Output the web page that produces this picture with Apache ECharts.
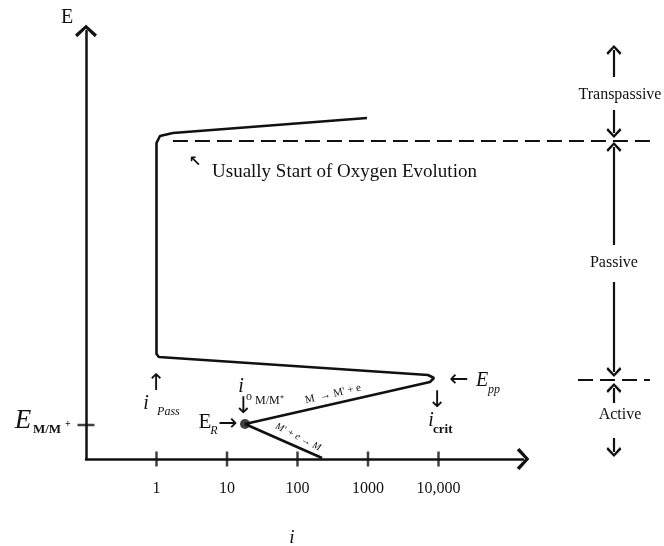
<!DOCTYPE html>
<html><head><meta charset="utf-8">
<script src="https://cdn.jsdelivr.net/npm/echarts@6/dist/echarts.min.js"></script>
<style>html,body{margin:0;padding:0;background:#fff}#c{width:664px;height:546px}</style>
</head><body><div id="c"></div>
<script>
// ---------- data ----------
const xTickValues = [1, 10, 100, 1000, 10000];
const xTickLabels = ['1', '10', '100', '1000', '10,000'];
// polarization curve (current density i, potential E in arbitrary units)
const curveI = [968, 1.71, 1.12, 1.0, 1.0, 1.08, 7096, 8630, 7570, 18, 223];
const curveE = [341, 326, 323, 316, 105, 102, 84, 81, 77, 35, 1];
const restI = [18];
const restE = [35];
const eMMTick = [34];
// region boundaries
const oxygenLineI = [1.71, 1e7];
const oxygenLineE = [318, 318];
const activeLineI = [9.52e5, 1e7];
const activeLineE = [79, 79];
const regionArrowI = 3.08e6;
const regionArrowsE = [[382, 409], [349, 326], [214, 312], [177, 87], [56, 71], [21, 7]];

// annotations: [text, i, E, grid, style, align, rotationDeg]
const annotations = [
  ['E', 0.0538, 441, 0, 'axisE', 'center', 0],
  ['i', 83.6, -79, 0, 'axisI', 'center', 0],
  ['E', 0.01278, 38, 0, 'bigE', 'center', 0],
  ['M/M', 0.0177, 29, 0, 'subBold', 'left', 0],
  ['+', 0.0555, 35, 0, 'supBold', 'center', 0],
  ['\u2196', 3.52, 297, 0, 'arrowS', 'center', 0],
  ['Usually Start of Oxygen Evolution', 6.13, 287, 0, 'text18', 'left', 0],
  ['\u2191', 0.984, 75, 0, 'arrow', 'center', 0],
  ['i', 0.71, 55, 0, 'ital', 'center', 0],
  ['Pass', 1.02, 47, 0, 'subItal', 'left', 0],
  ['i', 15.8, 72, 0, 'ital', 'center', 0],
  ['o', 20.5, 62, 0, 'sub', 'center', 0],
  ['M/M\u207A', 25, 58, 0, 'sub', 'left', 0],
  ['\u2193', 16.9, 52, 0, 'arrow', 'center', 0],
  ['E', 4.87, 37, 0, 'roman20', 'center', 0],
  ['R', 6.54, 28, 0, 'subItal', 'center', 0],
  ['\u2192', 10.3, 35, 0, 'arrow', 'center', 0],
  ['M  \u2192 M\' + e', 319, 65, 0, 'tiny', 'center', 12.8],
  ['M\' + e \u2192 M', 102, 22, 0, 'tinyItal', 'center', -27],
  ['\u2190', 19540, 79, 0, 'arrow', 'center', 0],
  ['E', 41400, 78, 0, 'ital', 'center', 0],
  ['pp', 61250, 69, 0, 'subItal', 'center', 0],
  ['\u2193', 9520, 58, 0, 'arrow', 'center', 0],
  ['i', 7830, 38, 0, 'ital', 'center', 0],
  ['crit', 8360, 29, 0, 'subBold', 'left', 0],
  ['Transpassive', 3.75e6, 364, 1, 'text16', 'center', 0],
  ['Passive', 3.08e6, 196, 1, 'text16', 'center', 0],
  ['Active', 3.75e6, 44, 1, 'text16', 'center', 0]
];

// ---------- styles ----------
const SERIF = '"Liberation Serif", "Times New Roman", serif';
const ARROWF = '"DejaVu Sans", sans-serif';
const textStyles = {
  axisE:   {fontSize: 20, fontFamily: SERIF},
  axisI:   {fontSize: 19, fontFamily: SERIF, fontStyle: 'italic'},
  bigE:    {fontSize: 27, fontFamily: SERIF, fontStyle: 'italic'},
  subBold: {fontSize: 13, fontFamily: SERIF, fontWeight: 'bold'},
  supBold: {fontSize: 10, fontFamily: SERIF, fontWeight: 'bold'},
  arrowS:  {fontSize: 15, fontFamily: ARROWF, fontWeight: 'bold'},
  arrow:   {fontSize: 23, fontFamily: ARROWF},
  text18:  {fontSize: 19, fontFamily: SERIF},
  text16:  {fontSize: 16, fontFamily: SERIF},
  ital:    {fontSize: 20, fontFamily: SERIF, fontStyle: 'italic'},
  subItal: {fontSize: 12, fontFamily: SERIF, fontStyle: 'italic'},
  sub:     {fontSize: 12, fontFamily: SERIF},
  roman20: {fontSize: 21, fontFamily: SERIF},
  tiny:    {fontSize: 11, fontFamily: SERIF},
  tinyItal:{fontSize: 10, fontFamily: SERIF, fontStyle: 'italic'}
};
const chevron = 'path://M10,0 L20,9 L18,11.5 L10,3.8 L2,11.5 L0,9 Z';
const INK = '#111';

const chart = echarts.init(document.getElementById('c'), null, {renderer: 'canvas'});

const curveData = curveI.map((v, k) => [v, curveE[k]]);
const tickData = xTickValues.map(v => [v, 0]);

const regionMarks = regionArrowsE.map(p => [
  {coord: [regionArrowI, p[0]], symbol: 'none'},
  {coord: [regionArrowI, p[1]], symbol: chevron, symbolSize: [15, 10]}
]);

const option = {
  animation: false,
  backgroundColor: '#fff',
  grid: [
    {left: 86, right: 141, top: 31, bottom: 87},
    {left: 86, right: 14, top: 31, bottom: 87}
  ],
  xAxis: [
    {
      type: 'log', gridIndex: 0, min: 0.1, max: 1.58e5, logBase: 10,
      axisLine: {lineStyle: {color: INK, width: 2.5}, symbol: ['none', chevron], symbolSize: [22, 14]},
      axisTick: {show: false}, splitLine: {show: false},
      axisLabel: {
        margin: 22, color: INK, fontSize: 16, fontFamily: SERIF,
        formatter: function (v) {
          const k = xTickValues.findIndex(t => Math.abs(t - v) / t < 1e-6);
          return k >= 0 ? xTickLabels[k] : '';
        }
      }
    },
    {type: 'log', gridIndex: 1, min: 0.1, max: 1e7, show: false}
  ],
  yAxis: [
    {
      type: 'value', gridIndex: 0, min: 0, max: 428,
      axisLine: {show: true, lineStyle: {color: INK, width: 2.5}, symbol: ['none', chevron], symbolSize: [22, 14]},
      axisTick: {show: false}, axisLabel: {show: false}, splitLine: {show: false}
    },
    {type: 'value', gridIndex: 1, min: 0, max: 428, show: false}
  ],
  series: [
    {
      type: 'line', xAxisIndex: 0, yAxisIndex: 0, data: curveData,
      showSymbol: false, clip: false, lineStyle: {color: INK, width: 2.6}
    },
    {
      type: 'scatter', xAxisIndex: 0, yAxisIndex: 0, data: tickData, clip: false,
      symbol: 'rect', symbolSize: [2.5, 15], itemStyle: {color: INK}, silent: true
    },
    {
      type: 'scatter', xAxisIndex: 0, yAxisIndex: 0, data: eMMTick.map(e => [0.1, e]), clip: false,
      symbol: 'rect', symbolSize: [17, 2.5], itemStyle: {color: INK}, silent: true
    },
    {
      type: 'scatter', xAxisIndex: 0, yAxisIndex: 0, data: restI.map((v, k) => [v, restE[k]]), clip: false,
      symbol: 'circle', symbolSize: 10, itemStyle: {color: INK}
    },
    {
      type: 'line', xAxisIndex: 1, yAxisIndex: 1, data: [], clip: false,
      markLine: {
        silent: true, symbol: 'none', label: {show: false},
        lineStyle: {color: INK, width: 2, type: [15, 7]},
        data: [
          [{coord: [oxygenLineI[0], oxygenLineE[0]]}, {coord: [oxygenLineI[1], oxygenLineE[1]]}],
          [{coord: [activeLineI[0], activeLineE[0]]}, {coord: [activeLineI[1], activeLineE[1]]}]
        ]
      }
    },
    {
      type: 'line', xAxisIndex: 1, yAxisIndex: 1, data: [], clip: false,
      markLine: {
        silent: true, label: {show: false},
        lineStyle: {color: INK, width: 2.2, type: 'solid'},
        data: regionMarks
      }
    }
  ]
};
chart.setOption(option);

const graphics = annotations.map(a => {
  const p = chart.convertToPixel({gridIndex: a[3]}, [a[1], a[2]]);
  const st = textStyles[a[4]];
  return {
    type: 'text', x: p[0], y: p[1], rotation: a[6] * Math.PI / 180, silent: true,
    style: Object.assign({text: a[0], fill: INK, align: a[5], verticalAlign: 'middle'}, st)
  };
});
chart.setOption({graphic: graphics});
</script>
</body></html>
